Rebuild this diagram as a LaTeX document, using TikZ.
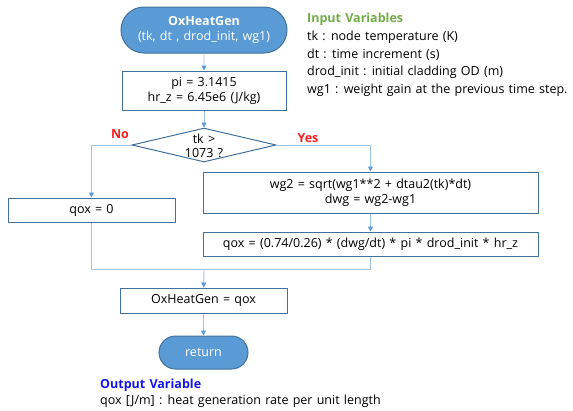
\documentclass[tikz,border=0pt]{standalone}
\usepackage{fontspec}
\setmainfont[WordSpace=1.3]{Open Sans}
\usetikzlibrary{arrows.meta,positioning,shapes.geometric,shapes.misc}
\definecolor{boxline}{RGB}{65,113,156}
\definecolor{termfill}{RGB}{91,155,213}
\definecolor{flowline}{RGB}{157,195,230}
\definecolor{tipblue}{RGB}{91,155,213}
\definecolor{inputgreen}{RGB}{112,173,71}
\definecolor{outblue}{RGB}{20,20,240}
\definecolor{yesnored}{RGB}{250,30,30}
\tikzset{font=\fontsize{12.5}{15}\selectfont}
\tikzset{every node/.append style={transform shape=false}}
\tikzset{
  term/.style={rounded rectangle, draw=boxline, fill=termfill, line width=1pt,
               text=white, align=center, inner sep=0pt},
  proc/.style={rectangle, draw=boxline, line width=1pt, align=center, inner sep=0pt},
  decide/.style={diamond, draw=boxline, line width=1pt, inner sep=0pt, aspect=4},
  link/.style={draw=flowline, line width=0.9pt},
  flow/.style={link, -{Triangle[width=5pt,length=5pt,color=tipblue]}},
  branch/.style={text=yesnored, font=\fontsize{12.5}{13}\selectfont\bfseries}
}

\begin{document}
\begin{tikzpicture}[x=1pt, y=-1pt]
  \useasboundingbox (0,0) rectangle (573,410);

  \node[term, minimum width=166, minimum height=46] (start) at (204,30)
       {\textbf{OxHeatGen}\\(tk, dt , drod\_init, wg1)};
  \node[proc, minimum width=164, minimum height=39] (init) at (204,90.5)
       {pi = 3.1415\\hr\_z = 6.45e6 (J/kg)};
  \node[decide, minimum width=144, minimum height=34] (test) at (204,145) {};
  \node[align=center, inner sep=0pt, font=\fontsize{12.5}{14}\selectfont] (testtxt) at (204,146)
       {tk >\\1073 ?};

  \node[proc, minimum width=167, minimum height=24] (zero) at (91.5,210) {qox = 0};
  \node[proc, minimum width=335, minimum height=41] (wgcalc) at (370.5,192.5)
       {wg2 = sqrt(wg1**2 + dtau2(tk)*dt)\\dwg = wg2-wg1};
  \node[proc, minimum width=335, minimum height=24] (qoxcalc) at (370.5,244)
       {qox = (0.74/0.26) * (dwg/dt) * pi * drod\_init * hr\_z};

  \coordinate (merge) at (204,269);
  \node[proc, minimum width=167, minimum height=25] (assign) at (203.5,300.5)
       {OxHeatGen = qox};
  \node[term, minimum width=89, minimum height=33] (ret) at (203.5,352.5) {return};

  \draw[flow] (start) -- (init);
  \draw[flow] (init) -- (test);
  \draw[flow] (test.west) -| (zero.north);
  \draw[flow] (test.east) -| (wgcalc.north);
  \draw[flow] (wgcalc) -- (qoxcalc);
  \draw[link] (zero.south) |- (merge);
  \draw[link] (qoxcalc.south) |- (merge);
  \draw[flow] (merge) -- (assign);
  \draw[flow] (assign) -- (ret);

  \node[branch] (nolbl) at (120,134) {No};
  \node[branch] (yeslbl) at (308,138) {Yes};

  % variable lists
  \node[anchor=west, inner sep=0pt, text=inputgreen, font=\fontsize{12.5}{15}\selectfont\bfseries]
       (intitle) at (307,19) {Input Variables};
  \node[anchor=north west, inner sep=0pt, align=left, font=\fontsize{12.5}{17.6}\selectfont]
       (inlist) at (307,31) {tk : node temperature (K)\\dt : time increment (s)\\
       drod\_init : initial cladding OD (m)\\wg1 : weight gain at the previous time step.};
  \node[anchor=west, inner sep=0pt, text=outblue, font=\fontsize{12.5}{15}\selectfont\bfseries]
       (outtitle) at (100,385) {Output Variable};
  \node[anchor=west, inner sep=0pt] (outlist) at (100,401)
       {qox [J/m] : heat generation rate per unit length};
\end{tikzpicture}
\end{document}
